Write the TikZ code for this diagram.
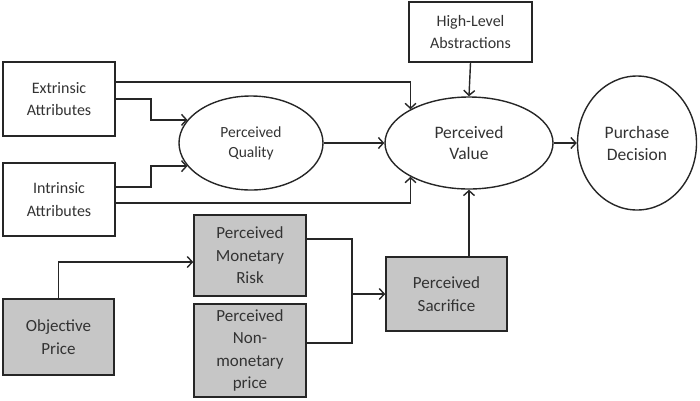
\documentclass[tikz,border=0pt]{standalone}
\usepackage{fontspec}
\setmainfont{Carlito}
\usetikzlibrary{arrows.meta,shapes.geometric}
\definecolor{linec}{HTML}{262626}
\definecolor{textc}{HTML}{333333}
\definecolor{fillg}{HTML}{C6C6C6}
\begin{document}
\begin{tikzpicture}[x=1pt,y=-1pt,
  every node/.style={text=textc, align=center, font=\fontsize{16}{22.5}\selectfont, inner sep=0pt},
  boxw/.style={draw=linec, line width=1.6pt, rectangle},
  boxg/.style={boxw, fill=fillg, font=\fontsize{17}{22.5}\selectfont},
  ell/.style={draw=linec, line width=1.4pt, ellipse},
  arr/.style={draw=linec, line width=1.4pt, -{Straight Barb[length=5pt,width=11pt,line width=1.4pt]}},
  ln/.style={draw=linec, line width=1.4pt}]
\useasboundingbox (0,0) rectangle (700,400);
\node[boxw, minimum width=112pt, minimum height=74pt] (ext) at (59,99) {Extrinsic\\Attributes};
\node[boxw, minimum width=112pt, minimum height=73pt] (int) at (59,199.5) {Intrinsic\\Attributes};
\node[ell, minimum width=144pt, minimum height=94pt, font=\fontsize{15.5}{20}\selectfont] (qual) at (251,143) {Perceived\\Quality};
\node[ell, minimum width=168pt, minimum height=92pt, font=\fontsize{17.5}{21}\selectfont] (val) at (469,143) {Perceived\\Value};
\node[boxw, minimum width=123pt, minimum height=60pt] (high) at (470.5,32) {High-Level\\Abstractions};
\node[ell, minimum width=119pt, minimum height=134pt, font=\fontsize{17.5}{22}\selectfont] (pur) at (637,143) {Purchase\\Decision};
\node[boxg, minimum width=112pt, minimum height=81pt] (mon) at (250,255.5) {Perceived\\Monetary\\Risk};
\node[boxg, minimum width=112pt, minimum height=93pt] (non) at (250,350.5) {Perceived\\Non-\\monetary\\price};
\node[boxg, minimum width=111pt, minimum height=76pt] (obj) at (58.5,337) {Objective\\Price};
\node[boxg, minimum width=121pt, minimum height=74pt] (sac) at (446.5,294) {Perceived\\Sacrifice};
\coordinate (j) at (352,294);

\draw[arr] ([yshift=17pt]ext.east) -| (val.150);
\draw[arr] (ext.east) -- ++(35,0) |- (qual.160);
\draw[arr] ([yshift=12.5pt]int.east) -- ++(35,0) |- (qual.200);
\draw[arr] ([yshift=-3.5pt]int.east) -| (val.210);
\draw[arr] (qual.east) -- (val.west);
\draw[arr] (high.south) -- (val.north);
\draw[arr] (val.east) -- (pur.west);
\draw[arr] (obj.north) |- ([yshift=-6.5pt]mon.west);
\draw[ln] ([yshift=16.5pt]mon.east) -| (j);
\draw[ln] ([yshift=7.5pt]non.east) -| (j);
\draw[arr] (j) -- (sac.west);
\draw[arr] (sac.north -| val.south) -- (val.south);
\end{tikzpicture}
\end{document}
